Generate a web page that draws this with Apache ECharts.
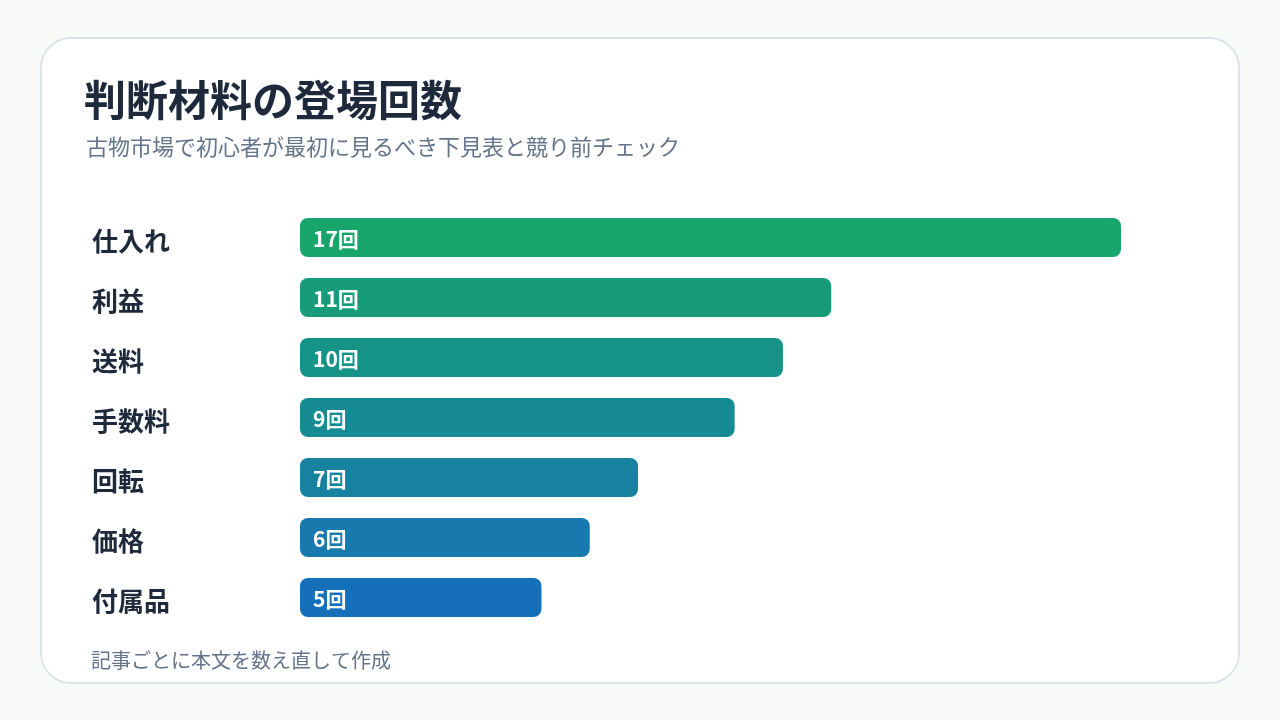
<!DOCTYPE html>
<html>
<head>
<meta charset="utf-8">
<script src="https://cdn.jsdelivr.net/npm/echarts@6/dist/echarts.min.js"></script>
<style>
  html, body { margin: 0; padding: 0; background: #f8faf8; }
  #main { width: 1280px; height: 720px; }
</style>
</head>
<body>
<div id="main"></div>
<script>
    // data
    var categories = ['仕入れ', '利益', '送料', '手数料', '回転', '価格', '付属品'];
    var counts = [17, 11, 10, 9, 7, 6, 5];
    var barColors = ['#18a56c', '#169c7a', '#169387', '#178b94', '#1782a0', '#1779ad', '#1670b9'];

    var FONT = '"Noto Sans CJK JP", "Noto Sans", sans-serif';

    var chart = echarts.init(document.getElementById('main'));

    var option = {
        backgroundColor: '#f8faf8',
        textStyle: { fontFamily: FONT },
        graphic: [{
            type: 'rect',
            shape: { x: 41, y: 38, width: 1198, height: 645, r: 30 },
            style: { fill: '#ffffff', stroke: '#dde3ea', lineWidth: 2 },
            z: -10
        }],
        title: [{
            text: '判断材料の登場回数',
            left: 84,
            top: 79,
            padding: 0,
            textStyle: { fontFamily: FONT, fontSize: 42, fontWeight: 'bold', color: '#1e293b' }
        }, {
            text: '古物市場で初心者が最初に見るべき下見表と競り前チェック',
            left: 86,
            top: 136,
            padding: 0,
            textStyle: { fontFamily: FONT, fontSize: 22, fontWeight: 'normal', color: '#64748b' }
        }, {
            text: '記事ごとに本文を数え直して作成',
            left: 91,
            top: 650,
            padding: 0,
            textStyle: { fontFamily: FONT, fontSize: 20, fontWeight: 'normal', color: '#64748b' }
        }],
        grid: { left: 300, width: 821, top: 207.5, height: 420, containLabel: false },
        xAxis: {
            type: 'value',
            min: 0,
            max: 17,
            show: false
        },
        yAxis: {
            type: 'category',
            inverse: true,
            data: categories,
            axisLine: { show: false },
            axisTick: { show: false },
            axisLabel: {
                align: 'left',
                margin: 208,
                formatter: '{v|{value}}',
                rich: {
                    v: {
                        padding: [7, 0, 0, 0],
                        fontFamily: FONT,
                        fontSize: 26,
                        fontWeight: 'bold',
                        color: '#1e293b'
                    }
                }
            }
        },
        series: [{
            type: 'bar',
            barWidth: 39,
            data: counts.map(function(v, i) {
                return { value: v, itemStyle: { color: barColors[i] } };
            }),
            itemStyle: { borderRadius: 8 },
            label: {
                show: true,
                position: 'insideLeft',
                distance: 13,
                offset: [0, 2],
                formatter: '{c}回',
                fontFamily: FONT,
                fontSize: 21,
                fontWeight: 'bold',
                color: '#ffffff'
            },
            animation: false
        }]
    };

    chart.setOption(option);
</script>
</body>
</html>
